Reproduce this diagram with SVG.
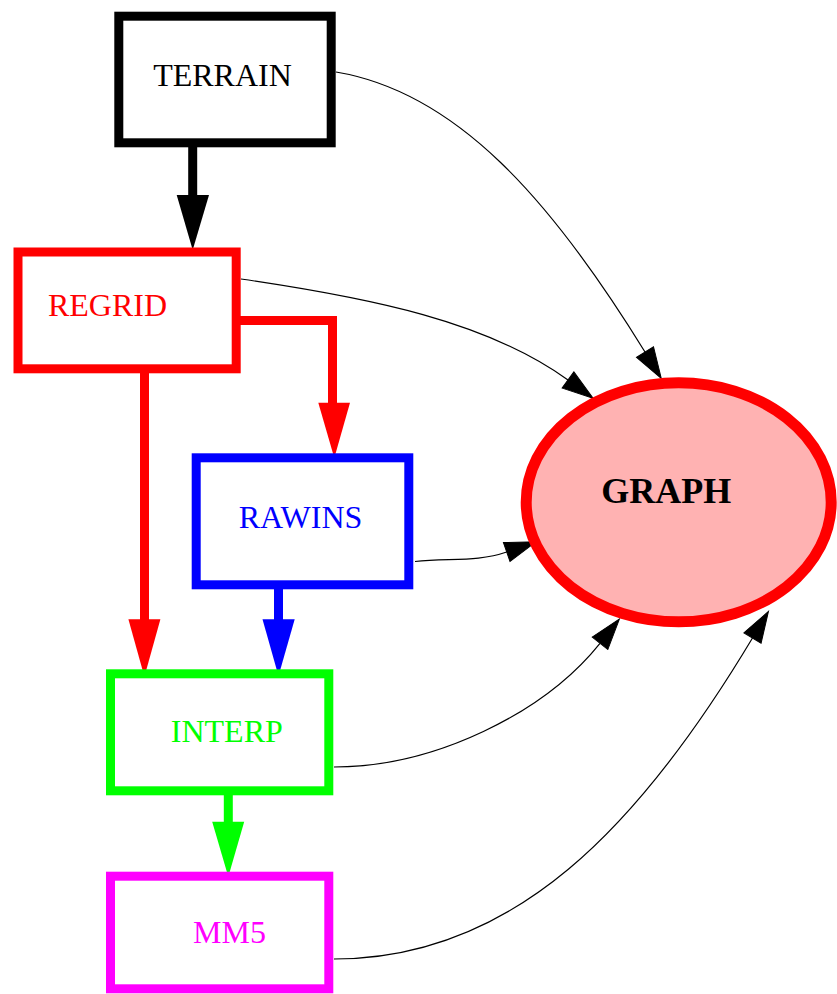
<svg xmlns="http://www.w3.org/2000/svg" width="837" height="994" viewBox="0 0 837 994">
<style>
.box{fill:#ffffff;stroke-width:9}
.lbl{font-family:"Liberation Serif","Times New Roman",serif;font-size:32px;text-anchor:middle}
.thin{fill:none;stroke:#000;stroke-width:1.2}
.thick{fill:none;stroke-width:9;stroke-linejoin:miter}
</style>
<defs>
<marker id="ah" markerUnits="userSpaceOnUse" markerWidth="34" markerHeight="24" refX="0" refY="10" orient="auto" overflow="visible">
<path d="M0,0 L31,10 L0,20 z" fill="#000" stroke="#000" stroke-width="1"/>
</marker>
</defs>
<rect width="837" height="994" fill="#ffffff"/>
<g id="connectors">
<path class="thin" d="M336,72 C456,92 550.5,198.6 645,352" marker-end="url(#ah)"/>
<path class="thin" d="M241,279 C371,298 487,321.4 568,380" marker-end="url(#ah)"/>
<path class="thin" d="M415,561.5 C450,558 478,562 506.7,552" marker-end="url(#ah)"/>
<path class="thin" d="M334,767 C434,767 543.75,713.5 600,643.3" marker-end="url(#ah)"/>
<path class="thin" d="M334,959 C514,959 639.4,826.7 752.5,638" marker-end="url(#ah)"/>
<path class="thick" stroke="#000" d="M192.7,147 V196"/>
<polygon fill="#000" points="176.7,195 209,195 192.7,250"/>
<path class="thick" stroke="#f00" d="M240,320.5 H332.5 V404"/>
<polygon fill="#f00" points="318.3,402.7 350,402.7 334.3,458"/>
<path class="thick" stroke="#f00" d="M144.5,373 V620"/>
<polygon fill="#f00" points="128.4,619.3 160.4,619.3 144.4,676.7"/>
<path class="thick" stroke="#00f" d="M278.5,589 V620"/>
<polygon fill="#00f" points="262.5,619.3 294.7,619.3 278.5,676"/>
<path class="thick" stroke="#0f0" d="M228.3,795 V822"/>
<polygon fill="#0f0" points="212.2,821.7 244.2,821.7 228.3,876.7"/>
</g>
<g id="TERRAIN">
<rect class="box" stroke="#000" x="118.8" y="16.2" width="212.4" height="126.6"/>
<text class="lbl" x="222.5" y="86" fill="#000">TERRAIN</text>
</g>
<g id="REGRID">
<rect class="box" stroke="#f00" x="18" y="252" width="218.2" height="116.8"/>
<text class="lbl" x="107.5" y="315.7" fill="#f00">REGRID</text>
</g>
<g id="RAWINS">
<rect class="box" stroke="#00f" x="196.2" y="457.8" width="212.6" height="127"/>
<text class="lbl" x="300.5" y="527.7" fill="#00f">RAWINS</text>
</g>
<g id="INTERP">
<rect class="box" stroke="#0f0" x="110.5" y="673.8" width="218.3" height="117"/>
<text class="lbl" x="226.8" y="741.7" fill="#0f0">INTERP</text>
</g>
<g id="MM5">
<rect class="box" stroke="#f0f" x="110.5" y="876.2" width="218.3" height="112.6"/>
<text class="lbl" x="229.5" y="943.3" fill="#f0f">MM5</text>
</g>
<g id="GRAPH">
<ellipse cx="678.7" cy="502.3" rx="152.5" ry="119.5" fill="#ffb2b2" stroke="#f00" stroke-width="11"/>
<text class="lbl" x="666.3" y="503.3" fill="#000" style="font-size:36px;font-weight:bold">GRAPH</text>
</g>
</svg>
